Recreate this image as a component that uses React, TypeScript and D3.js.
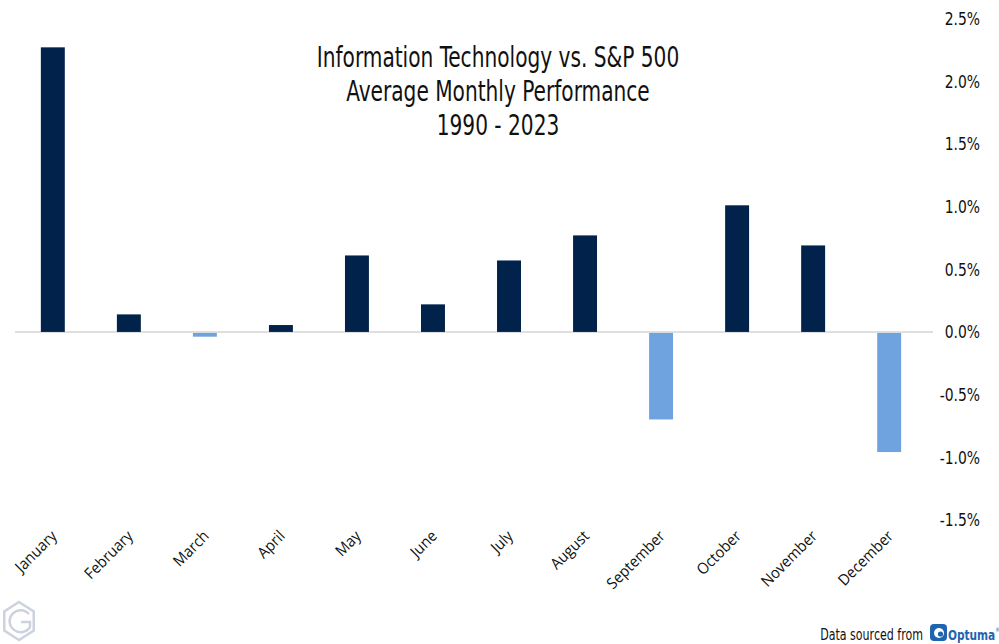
import React from 'react';
import * as d3 from 'd3';

const months = ['January', 'February', 'March', 'April', 'May', 'June', 'July', 'August', 'September', 'October', 'November', 'December'];
const avgReturn = [2.27, 0.14, -0.03, 0.055, 0.61, 0.22, 0.57, 0.77, -0.69, 1.01, 0.69, -0.95];
const yTicks = [-1.5, -1.0, -0.5, 0, 0.5, 1.0, 1.5, 2.0, 2.5];
const titleLines = ['Information Technology vs. S&P 500', 'Average Monthly Performance', '1990 - 2023'];

const W = 999;
const H = 644;
const NAVY = '#00224b';
const LIGHT = '#6fa3e0';
const narrow = '"DejaVu Sans Condensed", "Liberation Sans Narrow", sans-serif';

const fmt = (t: number) => d3.format('.1f')(t).replace('−', '-') + '%';

const App: React.FC = () => {
  const x = d3.scaleBand<string>().domain(months).range([15, 927]).paddingInner(0.685).paddingOuter(0.34);
  const y = d3.scaleLinear().domain([-1.5, 2.5]).range([520, 18.5]);
  const y0 = y(0);

  // hexagon for the corner mark
  const hex = d3.range(6).map(i => {
    const a = Math.PI / 3 * i - Math.PI / 2;
    return [19 + 17 * Math.cos(a), 621 + 19 * Math.sin(a)] as [number, number];
  });

  return (
    <svg width={W} height={H} viewBox={`0 0 ${W} ${H}`} style={{ position: 'absolute', left: 0, top: 0, background: '#fff' }}>
      {/* zero line */}
      <line x1={15} x2={933} y1={y0} y2={y0} stroke="#d4d4d4" strokeWidth={1.5} />

      {/* bars */}
      {months.map((m, i) => {
        const v = avgReturn[i];
        return (
          <rect
            key={m}
            x={x(m)}
            y={v >= 0 ? y(v) : y0 + 1}
            width={x.bandwidth()}
            height={Math.abs(y(v) - y0)}
            fill={v >= 0 ? NAVY : LIGHT}
          />
        );
      })}

      {/* y axis labels on the right */}
      {yTicks.map(t => (
        <text key={t} transform={`translate(980,${y(t)}) scale(0.86,1)`} dy="0.35em" textAnchor="end" fontFamily={narrow} fontSize={18} fill="#111">
          {fmt(t)}
        </text>
      ))}

      {/* month labels */}
      {months.map(m => {
        const cx = (x(m) ?? 0) + x.bandwidth() / 2 + 5;
        return (
          <text key={m} transform={`translate(${cx},${537}) rotate(-45) scale(0.94,1)`} textAnchor="end" fontFamily='"Open Sans", sans-serif' fontSize={15.5} fill="#111">
            {m}
          </text>
        );
      })}

      {/* title */}
      {titleLines.map((t, i) => (
        <text key={t} transform={`translate(498,${67 + i * 34}) scale(0.8,1)`} textAnchor="middle" fontFamily={narrow} fontSize={28} fill="#111">
          {t}
        </text>
      ))}

      {/* corner mark */}
      <path d={d3.line()(hex) + 'Z'} fill="none" stroke="#ccd3df" strokeWidth={2.5} />
      <path d="M29,614 A11,11 0 1 0 30,627 L30,622 L21,622" fill="none" stroke="#ccd3df" strokeWidth={2.5} />

      {/* source */}
      <text transform="translate(923,640) scale(0.82,1)" textAnchor="end" fontFamily={narrow} fontSize={15} fill="#111">Data sourced from</text>
      <rect x={930} y={624} width={17} height={17} rx={4} fill="#1f64b0" />
      <circle cx={939} cy={633} r={5} fill="#fff" />
      <circle cx={940.5} cy={634} r={2.6} fill="#1f64b0" />
      <text transform="translate(948,640) scale(0.84,1)" fontFamily={narrow} fontWeight={700} fontSize={14} fill="#1f64b0">
        Optuma<tspan fontSize={6} fontWeight={400} dy={-8}>®</tspan>
      </text>
    </svg>
  );
};

export default App;
